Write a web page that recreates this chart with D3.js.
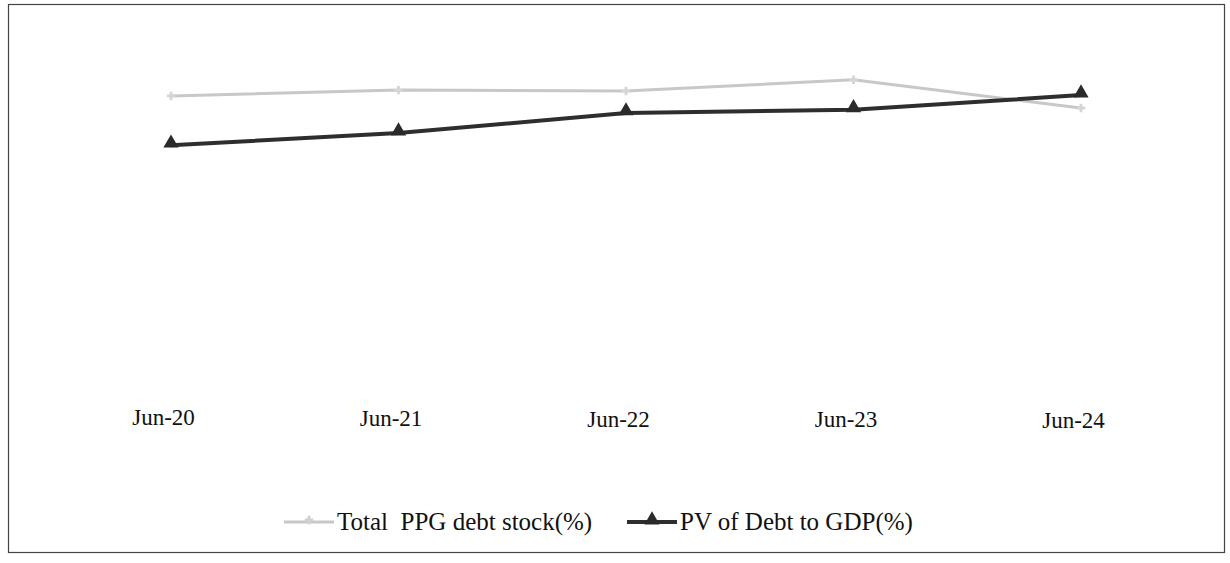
<!DOCTYPE html>
<html>
<head>
<meta charset="utf-8">
<script src="https://cdn.jsdelivr.net/npm/d3@7"></script>
<style>
  html, body { margin: 0; padding: 0; background: #fff; }
  svg { display: block; }
  text { white-space: pre; }
</style>
</head>
<body>
<div id="chart"></div>
<script>
// data (no y axis shown, values estimated)
const categories = ["Jun-20", "Jun-21", "Jun-22", "Jun-23", "Jun-24"];
const totalPPG   = [67.5, 68.8, 68.6, 71.1, 64.8];
const pvDebtGDP  = [56.5, 59.2, 63.7, 64.4, 67.7];
const seriesNames = ["Total  PPG debt stock(%)", "PV of Debt to GDP(%)"];

const width = 1230, height = 563;
const serif = "'Liberation Serif', 'Times New Roman', serif";

const svg = d3.select("#chart")
  .append("svg")
    .attr("width", width)
    .attr("height", height);

// scanned frame
svg.append("rect")
  .attr("x", 8.5).attr("y", 4.5)
  .attr("width", 1216).attr("height", 548)
  .attr("fill", "none")
  .attr("stroke", "#444")
  .attr("stroke-width", 1.2);

const x = d3.scalePoint()
  .domain(categories)
  .range([171, 1081]);

const y = d3.scaleLinear()
  .domain([0, 80])
  .range([398, 40]);

// category labels (no axis line in the original)
const xAxis = svg.append("g")
  .attr("transform", "translate(-8,0)")
  .call(d3.axisBottom(x).tickSize(0).tickPadding(0));
xAxis.select(".domain").remove();
xAxis.selectAll("text")
  .attr("y", 0)
  .attr("dy", 0)
  .attr("transform", (d, i) => `translate(0,${425 + i * 0.8})`)
  .attr("font-family", serif)
  .attr("font-size", "23px")
  .attr("fill", "#111");

const line = d3.line()
  .x((d, i) => x(categories[i]))
  .y(d => y(d));

// Total PPG debt stock - faint grey
svg.append("path")
  .datum(totalPPG)
  .attr("fill", "none")
  .attr("stroke", "#c8c8c8")
  .attr("stroke-width", 3)
  .attr("d", line);

svg.selectAll(".m-total")
  .data(totalPPG)
  .join("path")
    .attr("class", "m-total")
    .attr("transform", (d, i) => `translate(${x(categories[i])},${y(d)})`)
    .attr("d", d3.symbol(d3.symbolCross, 40))
    .attr("fill", "#d6d6d6");

// PV of debt to GDP - dark
svg.append("path")
  .datum(pvDebtGDP)
  .attr("fill", "none")
  .attr("stroke", "#2e2e2e")
  .attr("stroke-width", 4)
  .attr("d", line);

svg.selectAll(".m-pv")
  .data(pvDebtGDP)
  .join("path")
    .attr("class", "m-pv")
    .attr("transform", (d, i) => `translate(${x(categories[i])},${y(d) - 2})`)
    .attr("d", d3.symbol(d3.symbolTriangle, 100))
    .attr("fill", "#2a2a2a");

// legend
const legend = svg.append("g")
  .attr("font-family", serif)
  .attr("font-size", "25px")
  .attr("fill", "#111");

const items = [
  { name: seriesNames[0], x0: 284, stroke: "#c8c8c8", w: 3, sym: d3.symbolCross, size: 40, fill: "#d0d0d0" },
  { name: seriesNames[1], x0: 627, stroke: "#2e2e2e", w: 4, sym: d3.symbolTriangle, size: 100, fill: "#2a2a2a" }
];

items.forEach(it => {
  const g = legend.append("g").attr("transform", `translate(${it.x0},522)`);
  g.append("line")
    .attr("x1", 0).attr("x2", 50)
    .attr("stroke", it.stroke)
    .attr("stroke-width", it.w);
  g.append("path")
    .attr("transform", "translate(25,-2)")
    .attr("d", d3.symbol(it.sym, it.size))
    .attr("fill", it.fill);
  g.append("text")
    .attr("x", 53)
    .attr("y", 8)
    .text(it.name);
});
</script>
</body>
</html>
